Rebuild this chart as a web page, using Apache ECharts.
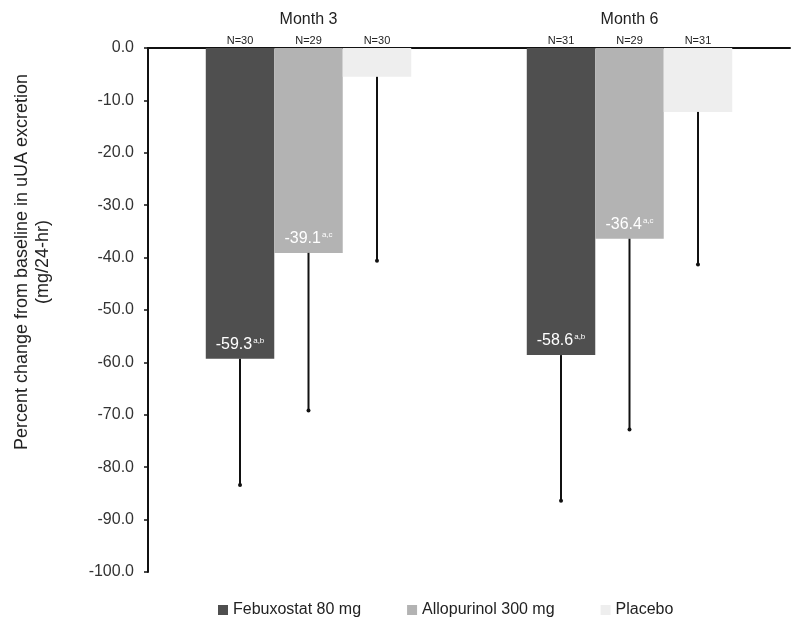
<!DOCTYPE html>
<html>
<head>
<meta charset="utf-8">
<script src="https://cdn.jsdelivr.net/npm/echarts@6/dist/echarts.min.js"></script>
<style>html,body{margin:0;padding:0;background:#fff}#c{width:800px;height:635px}</style>
</head>
<body>
<div id="c"></div>
<script>
var categories = ['Month 3', 'Month 6'];
var seriesNames = ['Febuxostat 80 mg', 'Allopurinol 300 mg', 'Placebo'];
var febuxostat = [-59.3, -58.6];
var allopurinol = [-39.1, -36.4];
var placebo = [-5.5, -12.2];
var febuxostatErr = [-83.4, -86.4];
var allopurinolErr = [-69.2, -72.8];
var placeboErr = [-40.6, -41.3];
var febuxostatN = ['N=30', 'N=31'];
var allopurinolN = ['N=29', 'N=29'];
var placeboN = ['N=30', 'N=31'];
var febuxostatSup = ['a,b', 'a,b'];
var allopurinolSup = ['a,c', 'a,c'];
var yTicks = [0, -10, -20, -30, -40, -50, -60, -70, -80, -90, -100];
var yTitle = 'Percent change from baseline in uUA excretion\n(mg/24-hr)';

var values = [febuxostat, allopurinol, placebo];
var errs = [febuxostatErr, allopurinolErr, placeboErr];
var ns = [febuxostatN, allopurinolN, placeboN];
var sups = [febuxostatSup, allopurinolSup, null];
var colors = ['#4f4f4f', '#b3b3b3', '#eeeeee'];
var GAP = 0.36;
var FONT = '"Liberation Sans", Arial, sans-serif';

var chart = echarts.init(document.getElementById('c'));

var series = [];
values.forEach(function (vals, i) {
  series.push({
    name: seriesNames[i],
    type: 'bar',
    data: vals,
    barGap: '0%',
    barCategoryGap: (GAP * 100) + '%',
    itemStyle: { color: colors[i] },
    label: {
      show: sups[i] !== null,
      position: 'insideBottom',
      distance: 6,
      formatter: function (p) {
        return '{v|' + p.value.toFixed(1) + '}{s|' + (sups[i] ? sups[i][p.dataIndex] : '') + '}';
      },
      rich: {
        v: { color: '#fff', fontSize: 16, fontFamily: FONT },
        s: { color: '#fff', fontSize: 8, verticalAlign: 'top', padding: [0, 0, 8, 1], fontFamily: FONT }
      }
    },
    z: 2
  });
});

var errData = [];
values.forEach(function (vals, i) {
  vals.forEach(function (v, j) {
    errData.push([j, v, errs[i][j], i, ns[i][j]]);
  });
});

series.push({
  type: 'custom',
  data: errData,
  z: 5,
  silent: true,
  renderItem: function (params, api) {
    var cat = api.value(0);
    var band = api.size([1, 0])[0];
    var bw = band * (1 - GAP) / 3;
    var idx = api.value(3);
    var center = api.coord([cat, 0]);
    var x = center[0] + (idx - 1) * bw;
    var pTop = api.coord([cat, api.value(1)]);
    var pBot = api.coord([cat, api.value(2)]);
    return {
      type: 'group',
      children: [
        { type: 'line', shape: { x1: x, y1: pTop[1], x2: x, y2: pBot[1] }, style: { stroke: '#111', lineWidth: 2 } },
        { type: 'circle', shape: { cx: x, cy: pBot[1], r: 2 }, style: { fill: '#111' } },
        { type: 'text', x: x, y: center[1] - 2, style: { text: api.value(4), fill: '#222', font: '11px ' + FONT, align: 'center', verticalAlign: 'bottom' } }
      ]
    };
  },
  encode: { x: 0, y: [1, 2] }
});

chart.setOption({
  animation: false,
  backgroundColor: '#fff',
  grid: { left: 148, right: 10, top: 48, bottom: 63 },
  graphic: [{
    type: 'text',
    x: 33,
    y: 262,
    rotation: Math.PI / 2,
    style: {
      text: yTitle,
      font: '18px ' + FONT,
      fill: '#222',
      align: 'center',
      verticalAlign: 'middle',
      lineHeight: 21
    }
  }],
  legend: {
    bottom: 12,
    left: 213,
    data: seriesNames,
    itemWidth: 10,
    itemHeight: 10,
    itemGap: 46,
    icon: 'rect',
    textStyle: { fontSize: 16, color: '#222', fontFamily: FONT }
  },
  xAxis: {
    type: 'category',
    data: categories,
    position: 'top',
    axisLine: { lineStyle: { color: '#111', width: 2 } },
    axisTick: { show: false },
    axisLabel: { fontSize: 16, color: '#222', margin: 20, fontFamily: FONT }
  },
  yAxis: {
    type: 'value',
    min: -100,
    max: 0,
    interval: 10,
    axisLine: { show: true, lineStyle: { color: '#111', width: 2 } },
    axisTick: { show: true, length: 4, lineStyle: { color: '#111', width: 1.5 } },
    splitLine: { show: false },
    axisLabel: {
      fontSize: 16,
      color: '#333',
      margin: 14,
      fontFamily: FONT,
      formatter: function (v) { return yTicks.indexOf(v) >= 0 ? v.toFixed(1) : ''; }
    }
  },
  series: series
});
</script>
</body>
</html>
